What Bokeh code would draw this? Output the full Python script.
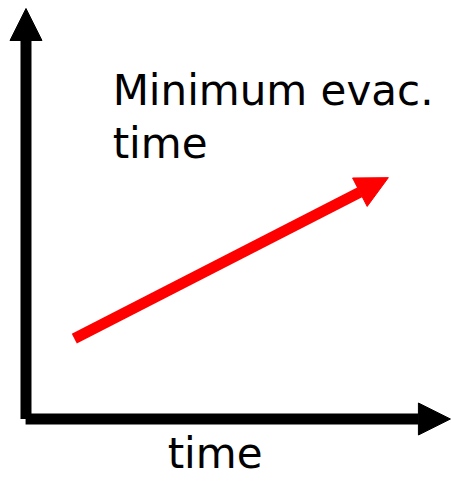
from bokeh.plotting import figure
from bokeh.models import Arrow, NormalHead, Range1d, ColumnDataSource
from bokeh.core.properties import value
from bokeh.embed import file_html
from bokeh.resources import INLINE

# Schematic data (abstract units: axes run 0..10)
axis_origin = [0.0, 0.0]
x_axis_end = [10.19, 0.0]
y_axis_end = [0.0, 10.0]
trend_x = [1.16, 8.70]
trend_y = [1.96, 5.88]
label_lines = ["Minimum evac.", "time"]
label_x = [2.08, 2.08]
label_y = [8.0, 6.70]
xlabel_text = ["time"]
xlabel_x = [4.54]
xlabel_y = [-0.84]

p = figure(width=451, height=481, output_backend="svg", toolbar_location=None,
           x_range=Range1d(-0.612, 10.216), y_range=Range1d(-1.5225, 10.195),
           min_border=0)
p.axis.visible = False
p.grid.visible = False
p.outline_line_color = None
p.background_fill_color = "white"

# axes with arrowheads
p.add_layout(Arrow(x_start=axis_origin[0], y_start=axis_origin[1],
                   x_end=y_axis_end[0], y_end=y_axis_end[1],
                   line_width=11, line_color="black",
                   end=NormalHead(size=32, fill_color="black", line_color="black", line_width=1)))
p.add_layout(Arrow(x_start=axis_origin[0] - 0.01, y_start=axis_origin[1],
                   x_end=x_axis_end[0], y_end=x_axis_end[1],
                   line_width=11, line_color="black",
                   end=NormalHead(size=32, fill_color="black", line_color="black", line_width=1)))

# red trend arrow
p.add_layout(Arrow(x_start=trend_x[0], y_start=trend_y[0],
                   x_end=trend_x[1], y_end=trend_y[1],
                   line_width=11, line_color="#ff0000",
                   end=NormalHead(size=32, fill_color="#ff0000", line_color="#ff0000", line_width=1)))

lab = ColumnDataSource(dict(x=label_x, y=label_y, t=label_lines))
p.text(x="x", y="y", text="t", source=lab, text_font=value("DejaVu Sans"),
       text_font_size="42px", text_color="black", text_baseline="alphabetic",
       text_align="left")

xl = ColumnDataSource(dict(x=xlabel_x, y=xlabel_y, t=xlabel_text))
p.text(x="x", y="y", text="t", source=xl, text_font=value("DejaVu Sans"),
       text_font_size="42px", text_color="black", text_baseline="alphabetic",
       text_align="center")

open("out.html", "w").write(file_html(p, INLINE))
